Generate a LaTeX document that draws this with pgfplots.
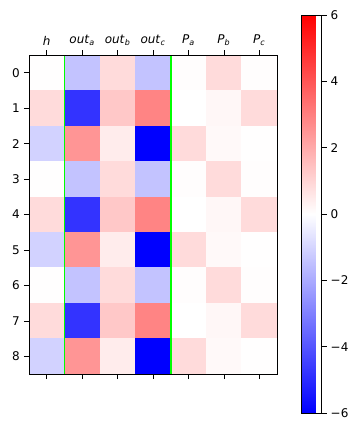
\documentclass[border=0pt]{standalone}
\usepackage{pgfplots}
\pgfplotsset{compat=1.18}
\usepackage{fontspec}
\setmainfont{DejaVu Sans}
\definecolor{lime}{RGB}{0,255,0}
\pgfplotstableread{
x y c
0 0 0.02
1 0 -1.4
2 0 0.85
3 0 -1.4
4 0 0.05
5 0 0.85
6 0 0.05
0 1 0.85
1 1 -4.8
2 1 1.3
3 1 2.9
4 1 0.0
5 1 0.2
6 1 0.85
0 2 -1.05
1 2 2.5
2 2 0.45
3 2 -6
4 2 0.85
5 2 0.15
6 2 0.02
0 3 0.02
1 3 -1.4
2 3 0.85
3 3 -1.4
4 3 0.05
5 3 0.85
6 3 0.05
0 4 0.85
1 4 -4.8
2 4 1.3
3 4 2.9
4 4 0.0
5 4 0.2
6 4 0.85
0 5 -1.05
1 5 2.5
2 5 0.45
3 5 -6
4 5 0.85
5 5 0.15
6 5 0.02
0 6 0.02
1 6 -1.4
2 6 0.85
3 6 -1.4
4 6 0.05
5 6 0.85
6 6 0.05
0 7 0.85
1 7 -4.8
2 7 1.3
3 7 2.9
4 7 0.0
5 7 0.2
6 7 0.85
0 8 -1.05
1 8 2.5
2 8 0.45
3 8 -6
4 8 0.85
5 8 0.15
6 8 0.02
}\datatable
\begin{document}
\fontsize{12}{14}\selectfont
\begin{tikzpicture}[x=1pt,y=1pt]
\useasboundingbox (0,0) rectangle (352,432);
\begin{axis}[
  at={(29pt,58pt)}, anchor=south west,
  scale only axis, width=248pt, height=319pt,
  xmin=-0.5, xmax=6.5, ymin=-0.5, ymax=8.5, y dir=reverse,
  enlargelimits=false,
  axis on top,
  colormap={bwr}{rgb255=(0,0,255) rgb255=(255,255,255) rgb255=(255,0,0)},
  point meta min=-6, point meta max=6,
  xtick={0,...,6},
  xticklabels={\textit{h},\textit{out}\textsubscript{\textit{a}},\textit{out}\textsubscript{\textit{b}},\textit{out}\textsubscript{\textit{c}},\textit{P}\textsubscript{\textit{a}},\textit{P}\textsubscript{\textit{b}},\textit{P}\textsubscript{\textit{c}}},
  xticklabel pos=upper, xtick pos=both,
  ytick={0,...,8}, yticklabels={0,1,2,3,4,5,6,7,8},
  ytick pos=left,
  tick align=outside, major tick length=5pt,
  tick style={black, line width=0.6pt},
  axis line style={line width=0.8pt},
  ticklabel style={font=\fontsize{12}{14}\selectfont},
  colorbar,
  colorbar style={
    scale only axis,
    width=20pt, height=398pt,
    at={(parent axis.south east)}, anchor=south west,
    xshift=16pt, yshift=-39pt,
    ytick={-6,-4,-2,0,2,4,6},
    yticklabels={−6,−4,−2,0,2,4,6},
    ytick pos=right, yticklabel pos=right,
    tick align=outside, major tick length=5pt,
    tick style={black, line width=0.6pt},
    axis line style={line width=0.8pt},
    ticklabel style={font=\fontsize{12}{14}\selectfont},
  },
]
\addplot[matrix plot*, mesh/cols=7, point meta=explicit] table[x=x, y=y, meta=c] {\datatable};
\addplot[color=lime, line width=1.6pt] coordinates {(0.5,-0.5) (0.5,8.5)};
\addplot[color=lime, line width=1.6pt] coordinates {(3.5,-0.5) (3.5,8.5)};
\end{axis}
\end{tikzpicture}
\end{document}
